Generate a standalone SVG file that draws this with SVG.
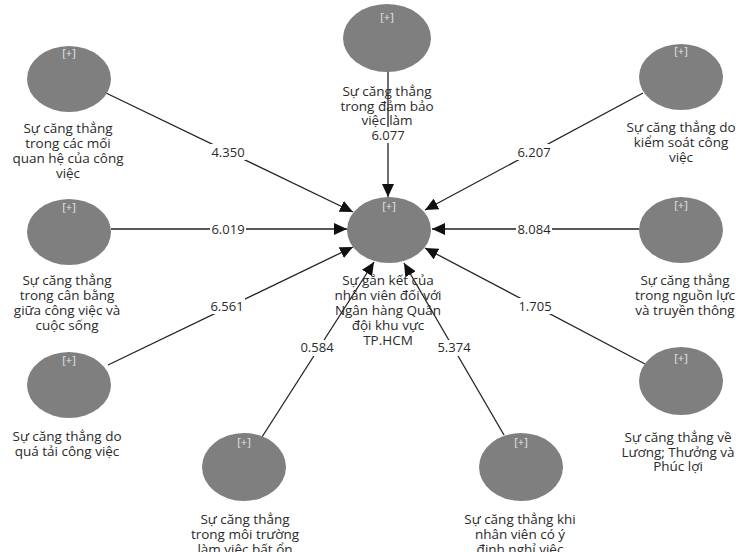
<svg xmlns="http://www.w3.org/2000/svg" width="749" height="552" viewBox="0 0 749 552">
<style>
.node{fill:#7f7f7f;}
.plus{font-family:"Open Sans","Noto Sans",sans-serif;font-size:11px;fill:#e6e6e6;text-anchor:middle;}
.lbl{font-family:"Open Sans","Noto Sans",sans-serif;font-size:13.5px;fill:#2a2a2a;text-anchor:middle;}
.edge{stroke:#222;stroke-width:1.3;fill:none;marker-end:url(#arr);}
.val{font-family:"Open Sans","Noto Sans",sans-serif;font-size:13px;fill:#2a2a2a;text-anchor:middle;}
.bg{fill:#fff;}
</style>
<defs>
<marker id="arr" markerUnits="userSpaceOnUse" markerWidth="14" markerHeight="12" refX="13" refY="6" orient="auto">
<path d="M0,0 L13,6 L0,12 z" fill="#111"/>
</marker>
</defs>
<rect width="749" height="552" fill="#fff"/>
<g id="connectors">
<line class="edge" x1="106" y1="93" x2="353" y2="212"/>
<line class="edge" x1="388" y1="71" x2="388" y2="197"/>
<line class="edge" x1="643" y1="93" x2="425" y2="210"/>
<line class="edge" x1="111" y1="229" x2="347" y2="229"/>
<line class="edge" x1="639" y1="229" x2="432" y2="229"/>
<line class="edge" x1="108" y1="365" x2="353" y2="247"/>
<line class="edge" x1="645" y1="364" x2="425" y2="248"/>
<line class="edge" x1="262" y1="437" x2="374" y2="262"/>
<line class="edge" x1="504" y1="435" x2="404" y2="263"/>
<rect class="bg" x="210" y="144" width="36" height="16"/><text class="val" x="228" y="157">4.350</text>
<rect class="bg" x="370" y="127" width="36" height="16"/><text class="val" x="388" y="140">6.077</text>
<rect class="bg" x="516" y="144" width="36" height="16"/><text class="val" x="534" y="157">6.207</text>
<rect class="bg" x="210" y="221" width="36" height="16"/><text class="val" x="228" y="234">6.019</text>
<rect class="bg" x="516" y="221" width="36" height="16"/><text class="val" x="534" y="234">8.084</text>
<rect class="bg" x="209" y="298" width="36" height="16"/><text class="val" x="227" y="311">6.561</text>
<rect class="bg" x="517" y="298" width="36" height="16"/><text class="val" x="535" y="311">1.705</text>
<rect class="bg" x="299" y="340" width="36" height="16"/><text class="val" x="317" y="352">0.584</text>
<rect class="bg" x="436" y="340" width="36" height="16"/><text class="val" x="454" y="352">5.374</text>
</g>
<g id="n-quanhe">
<ellipse class="node" cx="69" cy="79" rx="42" ry="33"/>
<text class="plus" x="69" y="57">[+]</text>
<text class="lbl" x="68" y="133">Sự căng thẳng</text>
<text class="lbl" x="68" y="148">trong các mối</text>
<text class="lbl" x="68" y="163">quan hệ của công</text>
<text class="lbl" x="68" y="178">việc</text>
</g>
<g id="n-dambao">
<ellipse class="node" cx="387" cy="38" rx="44" ry="34"/>
<text class="plus" x="387" y="21">[+]</text>
<text class="lbl" x="387" y="96">Sự căng thẳng</text>
<text class="lbl" x="387" y="111">trong đảm bảo</text>
<text class="lbl" x="387" y="125">việc làm</text>
</g>
<g id="n-kiemsoat">
<ellipse class="node" cx="681" cy="77" rx="42" ry="33"/>
<text class="plus" x="681" y="55">[+]</text>
<text class="lbl" x="681" y="132">Sự căng thẳng do</text>
<text class="lbl" x="681" y="147">kiểm soát công</text>
<text class="lbl" x="681" y="162">việc</text>
</g>
<g id="n-canbang">
<ellipse class="node" cx="69" cy="232" rx="42" ry="33"/>
<text class="plus" x="69" y="211">[+]</text>
<text class="lbl" x="67" y="285">Sự căng thẳng</text>
<text class="lbl" x="67" y="300">trong cân bằng</text>
<text class="lbl" x="67" y="315">giữa công việc và</text>
<text class="lbl" x="67" y="330">cuộc sống</text>
</g>
<g id="n-center">
<ellipse class="node" cx="389" cy="230" rx="42" ry="33"/>
<text class="plus" x="389" y="210">[+]</text>
<text class="lbl" x="388" y="285">Sự gắn kết của</text>
<text class="lbl" x="388" y="300">nhân viên đối với</text>
<text class="lbl" x="388" y="315">Ngân hàng Quân</text>
<text class="lbl" x="388" y="330">đội khu vực</text>
<text class="lbl" x="388" y="345">TP.HCM</text>
</g>
<g id="n-nguonluc">
<ellipse class="node" cx="681" cy="230" rx="42" ry="33"/>
<text class="plus" x="681" y="209">[+]</text>
<text class="lbl" x="685" y="285">Sự căng thẳng</text>
<text class="lbl" x="685" y="300">trong nguồn lực</text>
<text class="lbl" x="685" y="315">và truyền thông</text>
</g>
<g id="n-quatai">
<ellipse class="node" cx="69" cy="385" rx="42" ry="33"/>
<text class="plus" x="69" y="364">[+]</text>
<text class="lbl" x="67" y="441">Sự căng thẳng do</text>
<text class="lbl" x="67" y="456">quá tải công việc</text>
</g>
<g id="n-moitruong">
<ellipse class="node" cx="244" cy="467" rx="42" ry="34"/>
<text class="plus" x="244" y="446">[+]</text>
<text class="lbl" x="245" y="524">Sự căng thẳng</text>
<text class="lbl" x="245" y="539">trong môi trường</text>
<text class="lbl" x="245" y="554">làm việc bất ổn</text>
</g>
<g id="n-nghiviec">
<ellipse class="node" cx="521" cy="467" rx="42" ry="34"/>
<text class="plus" x="521" y="446">[+]</text>
<text class="lbl" x="520" y="524">Sự căng thẳng khi</text>
<text class="lbl" x="520" y="539">nhân viên có ý</text>
<text class="lbl" x="520" y="554">định nghỉ việc</text>
</g>
<g id="n-luong">
<ellipse class="node" cx="681" cy="381" rx="42" ry="34"/>
<text class="plus" x="681" y="362">[+]</text>
<text class="lbl" x="678" y="442">Sự căng thẳng về</text>
<text class="lbl" x="678" y="457">Lương; Thưởng và</text>
<text class="lbl" x="678" y="471">Phúc lợi</text>
</g>
</svg>
